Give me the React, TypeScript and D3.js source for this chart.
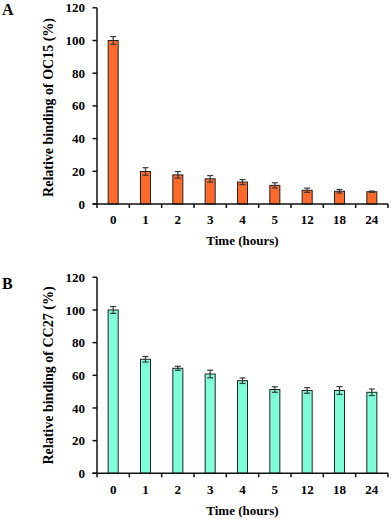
import React from "react";
import * as d3 from "d3";

const categories = ["0", "1", "2", "3", "4", "5", "12", "18", "24"];
const oc15Values = [100, 19.9, 17.8, 15.4, 13.4, 11.4, 8.4, 7.8, 7.5];
const oc15Errors = [2.4, 2.3, 2.0, 2.0, 1.5, 1.6, 1.3, 1.1, 0.4];
const cc27Values = [100, 69.8, 64.3, 60.8, 56.7, 51.3, 50.7, 50.7, 49.6];
const cc27Errors = [2.1, 1.7, 1.2, 2.3, 1.7, 1.7, 1.7, 2.4, 2.0];
const yTicks = [0, 20, 40, 60, 80, 100, 120];

const FONT = "'Liberation Serif', 'Times New Roman', serif";

type PanelProps = {
  letter: string;
  values: number[];
  errors: number[];
  fill: string;
  yTop: number;
  yBottom: number;
  yTitle: string;
  yTitleCenter: number;
  letterBaseline: number;
  tickBaseline: number;
  titleBaseline: number;
};

function Panel(p: PanelProps) {
  const x0 = 97;
  const x1 = 388;
  const x = d3
    .scaleBand<string>()
    .domain(categories)
    .range([x0, x1])
    .paddingInner(0.69)
    .paddingOuter(0.345);
  const y = d3.scaleLinear().domain([0, 120]).range([p.yBottom, p.yTop]);
  const step = x.step();
  const boundaries = d3.range(categories.length + 1).map((i) => x0 + i * step);
  const bw = x.bandwidth();
  return (
    <g>
      <text x={2} y={p.letterBaseline} fontFamily={FONT} fontWeight="bold" fontSize={16}>
        {p.letter}
      </text>
      {categories.map((c, i) => (
        <rect
          key={c}
          x={x(c)!}
          y={y(p.values[i])}
          width={bw}
          height={y(0) - y(p.values[i])}
          fill={p.fill}
          stroke="#222"
          strokeWidth={1}
        />
      ))}
      {categories.map((c, i) => {
        const cx = x(c)! + bw / 2;
        const yh = y(p.values[i] + p.errors[i]);
        const yl = y(p.values[i] - p.errors[i]);
        return (
          <g key={"e" + c} stroke="#3a3a3a" strokeWidth={1.2}>
            <line x1={cx} x2={cx} y1={yh} y2={yl} />
            <line x1={cx - 3} x2={cx + 3} y1={yh} y2={yh} />
            <line x1={cx - 3} x2={cx + 3} y1={yl} y2={yl} />
          </g>
        );
      })}
      <line x1={x0} x2={x0} y1={y(120)} y2={y(0)} stroke="#111" strokeWidth={1.5} />
      {yTicks.map((t) => (
        <g key={t}>
          <line x1={x0 - 4.5} x2={x0} y1={y(t)} y2={y(t)} stroke="#111" strokeWidth={1.5} />
          <text
            x={x0 - 12}
            y={y(t)}
            dy="0.35em"
            textAnchor="end"
            fontFamily={FONT}
            fontWeight="bold"
            fontSize={13}
          >
            {t}
          </text>
        </g>
      ))}
      <line x1={x0 - 4.5} x2={x1} y1={y(0)} y2={y(0)} stroke="#111" strokeWidth={1.5} />
      {boundaries.map((bx, i) => (
        <line key={i} x1={bx} x2={bx} y1={y(0)} y2={y(0) + 4} stroke="#111" strokeWidth={1.5} />
      ))}
      {categories.map((c) => (
        <text
          key={"t" + c}
          x={x(c)! + bw / 2}
          y={p.tickBaseline}
          textAnchor="middle"
          fontFamily={FONT}
          fontWeight="bold"
          fontSize={13}
        >
          {c}
        </text>
      ))}
      <text
        x={(x0 + x1) / 2}
        y={p.titleBaseline}
        textAnchor="middle"
        fontFamily={FONT}
        fontWeight="bold"
        fontSize={13}
      >
        Time (hours)
      </text>
      <text
        transform={`translate(53, ${p.yTitleCenter}) rotate(-90)`}
        textAnchor="middle"
        fontFamily={FONT}
        fontWeight="bold"
        fontSize={14}
      >
        {p.yTitle}
      </text>
    </g>
  );
}

export default function App() {
  return (
    <svg
      width={391}
      height={519}
      style={{ position: "absolute", left: 0, top: 0, background: "#fff" }}
    >
      <Panel
        letter="A"
        values={oc15Values}
        errors={oc15Errors}
        fill="#FF6A2B"
        yTop={7.8}
        yBottom={204}
        yTitle="Relative binding of OC15 (%)"
        yTitleCenter={107.5}
        letterBaseline={14.5}
        tickBaseline={224}
        titleBaseline={244.5}
      />
      <Panel
        letter="B"
        values={cc27Values}
        errors={cc27Errors}
        fill="#7FFFD9"
        yTop={277.3}
        yBottom={473.3}
        yTitle="Relative binding of CC27 (%)"
        yTitleCenter={375.5}
        letterBaseline={289}
        tickBaseline={493.5}
        titleBaseline={514.5}
      />
    </svg>
  );
}
